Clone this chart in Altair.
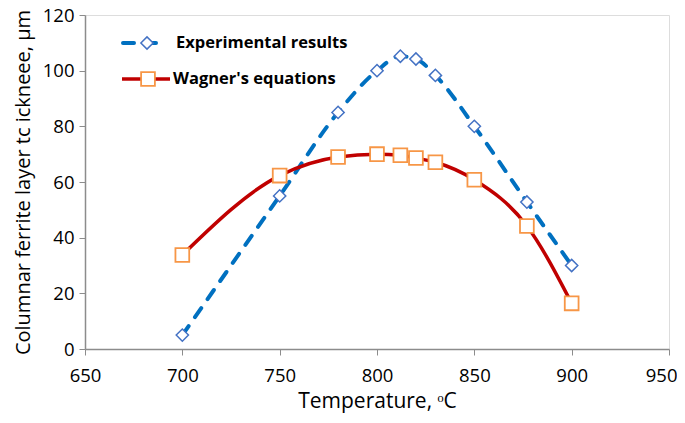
import altair as alt
import pandas as pd

temps = [700, 750, 780, 800, 812, 820, 830, 850, 877, 900]
experimental = [5, 55, 85, 100, 105.2, 104.2, 98.3, 80, 52.8, 30]
wagner = [33.8, 62.3, 69, 70, 69.6, 68.6, 67.1, 60.8, 44.2, 16.4]
series_names = ["Experimental results", "Wagner's equations"]
x_ticks = [650, 700, 750, 800, 850, 900, 950]
y_ticks = [0, 20, 40, 60, 80, 100, 120]

exp_df = pd.DataFrame({"T": temps, "v": experimental})
wag_df = pd.DataFrame({"T": temps, "v": wagner})

FONT = "Open Sans"
BLUE_LINE = "#0070C0"
BLUE_MARK = "#4472C4"
RED_LINE = "#C00000"
ORANGE_MARK = "#F79646"

xs = alt.Scale(domain=[650, 950], nice=False, zero=False)
ys = alt.Scale(domain=[0, 120], nice=False)

xax = alt.Axis(values=x_ticks, title="Temperature, ᵒC", grid=False, labelFontSize=18.5,
               titleFontSize=21, titleFontWeight="normal", labelFont=FONT, titleFont=FONT,
               labelColor="#000", titleColor="#000", domainColor="#8c8c8c", domainWidth=1.5,
               tickColor="#8c8c8c", tickSize=6, labelPadding=11, titlePadding=6, zindex=1,
               labelFlush=False, format="d",
               labelAlign=alt.expr("datum.value == 950 ? 'right' : 'center'"),
               labelOffset=alt.expr("datum.value == 950 ? 8 : 0"))
yax = alt.Axis(values=y_ticks, title="Columnar ferrite layer tc ickneee, µm", grid=False,
               labelFontSize=18.5, titleFontSize=20, titleFontWeight="normal", labelFont=FONT,
               titleFont=FONT, labelColor="#000", titleColor="#000", domainColor="#8c8c8c",
               domainWidth=1.5, tickColor="#8c8c8c", tickSize=6, labelPadding=5,
               titlePadding=9, zindex=1, labelFlush=False, format="d")

base_e = alt.Chart(exp_df)
base_w = alt.Chart(wag_df)

exp_line = base_e.mark_line(color=BLUE_LINE, strokeWidth=4, strokeDash=[11, 11],
                            strokeCap="round", interpolate="monotone").encode(
    x=alt.X("T:Q", scale=xs, axis=xax), y=alt.Y("v:Q", scale=ys, axis=yax))
exp_pts = base_e.mark_point(shape="diamond", size=150, filled=True, fill="white",
                            stroke=BLUE_MARK, strokeWidth=1.5, opacity=1).encode(
    x=alt.X("T:Q", scale=xs), y=alt.Y("v:Q", scale=ys))
wag_line = base_w.mark_line(color=RED_LINE, strokeWidth=3.5, interpolate="monotone").encode(
    x=alt.X("T:Q", scale=xs), y=alt.Y("v:Q", scale=ys))
wag_pts = base_w.mark_point(shape="square", size=190, filled=True, fill="white",
                            stroke=ORANGE_MARK, strokeWidth=1.8, opacity=1).encode(
    x=alt.X("T:Q", scale=xs), y=alt.Y("v:Q", scale=ys))

leg_df = pd.DataFrame({"name": series_names})
leg1 = alt.Chart(leg_df.iloc[[0]])
leg2 = alt.Chart(leg_df.iloc[[1]])
l1_line = leg1.mark_rule(color=BLUE_LINE, strokeWidth=4, strokeDash=[11, 11], strokeCap="round").encode(
    x=alt.value(38), x2=alt.value(77), y=alt.value(28))
l1_pt = leg1.mark_point(shape="diamond", size=150, filled=True, fill="white",
                        stroke=BLUE_MARK, strokeWidth=1.5, opacity=1).encode(
    x=alt.value(62), y=alt.value(28))
l1_txt = leg1.mark_text(align="left", baseline="middle", font=FONT, fontSize=16.5,
                        fontWeight="bold", color="#000").encode(
    x=alt.value(91), y=alt.value(28), text="name:N")
l2_line = leg2.mark_rule(color=RED_LINE, strokeWidth=3.5).encode(
    x=alt.value(37), x2=alt.value(85), y=alt.value(64))
l2_pt = leg2.mark_point(shape="square", size=190, filled=True, fill="white",
                        stroke=ORANGE_MARK, strokeWidth=1.8, opacity=1).encode(
    x=alt.value(63), y=alt.value(64))
l2_txt = leg2.mark_text(align="left", baseline="middle", font=FONT, fontSize=16.5,
                        fontWeight="bold", color="#000").encode(
    x=alt.value(88), y=alt.value(64), text="name:N")

chart = alt.layer(exp_line, exp_pts, wag_line, wag_pts,
                  l1_line, l1_pt, l1_txt, l2_line, l2_pt, l2_txt).properties(
    width=584, height=334,
    autosize=alt.AutoSizeParams(type="none"),
    padding={"left": 77, "top": 7, "right": 8, "bottom": 66},
).configure_view(stroke="#000", strokeWidth=2).configure(background="white")

chart.save("out.html", embed_options={"renderer": "svg", "actions": False})
